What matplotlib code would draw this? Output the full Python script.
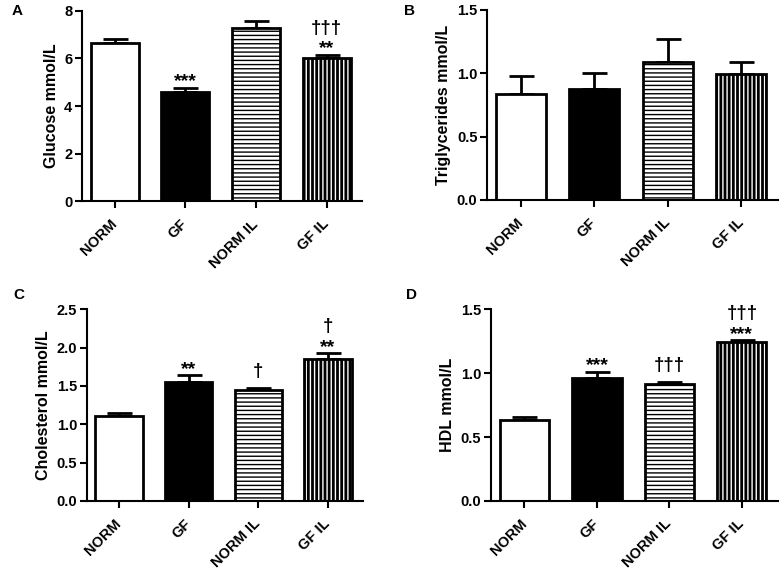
import numpy as np
import matplotlib
matplotlib.use("Agg")
import matplotlib.pyplot as plt

plt.rcParams['font.family'] = ['Liberation Sans', 'DejaVu Sans']
plt.rcParams['font.weight'] = 'bold'
plt.rcParams['hatch.linewidth'] = 1.0

groups = ["NORM", "GF", "NORM IL", "GF IL"]

# mean values and upper error (mean + sem)
glucose = [6.65, 4.58, 7.28, 6.01]
glucose_top = [6.82, 4.76, 7.58, 6.15]
trig = [0.834, 0.874, 1.084, 0.995]
trig_top = [0.98, 1.005, 1.27, 1.09]
chol = [1.11, 1.55, 1.45, 1.856]
chol_top = [1.15, 1.64, 1.48, 1.93]
hdl = [0.636, 0.96, 0.913, 1.242]
hdl_top = [0.657, 1.01, 0.935, 1.257]

# significance marks: (stars, daggers) per group
glucose_sig = [("", ""), ("***", ""), ("", ""), ("**", "†††")]
trig_sig = [("", "")] * 4
chol_sig = [("", ""), ("**", ""), ("", "†"), ("**", "†")]
hdl_sig = [("", ""), ("***", ""), ("", "†††"), ("***", "†††")]

panels = [
    ("A", [0.105, 0.649, 0.358, 0.332], glucose, glucose_top, glucose_sig,
     "Glucose mmol/L", 8, [0, 2, 4, 6, 8], "{:.0f}"),
    ("B", [0.623, 0.651, 0.372, 0.332], trig, trig_top, trig_sig,
     "Triglycerides mmol/L", 1.5, [0, 0.5, 1.0, 1.5], "{:.1f}"),
    ("C", [0.111, 0.126, 0.353, 0.334], chol, chol_top, chol_sig,
     "Cholesterol mmol/L", 2.5, [0, 0.5, 1.0, 1.5, 2.0, 2.5], "{:.1f}"),
    ("D", [0.628, 0.126, 0.367, 0.334], hdl, hdl_top, hdl_sig,
     "HDL mmol/L", 1.5, [0, 0.5, 1.0, 1.5], "{:.1f}"),
]
letter_pos = {"A": (0.015, 0.993), "B": (0.516, 0.993), "C": (0.017, 0.498), "D": (0.519, 0.498)}

fig = plt.figure(figsize=(7.82, 5.73), dpi=100)
x = np.arange(len(groups))
w = 0.68

for letter, rect, vals, tops, sig, ylab, ymax, yt, fmt in panels:
    ax = fig.add_axes(rect)
    vals = np.array(vals)
    err = np.array(tops) - vals
    ax.errorbar(x, vals, yerr=[np.zeros_like(err), err], fmt='none', ecolor='black',
                elinewidth=2, capsize=9, capthick=2, zorder=1)
    # fills
    ax.bar(x[0], vals[0], w, color='white', linewidth=0, zorder=2)
    ax.bar(x[1], vals[1], w, color='black', linewidth=0, zorder=2)
    ax.bar(x[2], vals[2], w, color='white', edgecolor='black', hatch='----', linewidth=0, zorder=2)
    ax.bar(x[3], vals[3], w, color='black', edgecolor='white', hatch='||||', linewidth=0, zorder=2)
    # outlines
    ax.bar(x, vals, w, fill=False, edgecolor='black', linewidth=2, zorder=3)

    for i, (st, dg) in enumerate(sig):
        if st:
            ax.annotate(st, (x[i], tops[i]), xytext=(0, 1), textcoords='offset points',
                        ha='center', va='baseline', fontsize=14, fontweight='bold')
        if dg:
            off = 16 if st else 8
            ax.annotate(dg, (x[i], tops[i]), xytext=(0, off), textcoords='offset points',
                        ha='center', va='baseline', fontsize=13.5, fontweight='bold')

    ax.set_xlim(-0.46, 3.5)
    ax.set_ylim(0, ymax)
    ax.set_yticks(yt)
    ax.set_yticklabels([fmt.format(v) for v in yt], fontsize=10.5, fontweight='bold')
    ax.set_xticks(x)
    ax.set_xticklabels(groups, rotation=45, ha='right', va='center', rotation_mode='anchor',
                       fontsize=10.5, fontweight='bold')
    ax.tick_params(axis='x', pad=10, length=5, width=1.5)
    ax.tick_params(axis='y', pad=2, length=5, width=1.5)
    ax.set_ylabel(ylab, fontsize=11.5, fontweight='bold')
    for s in ['top', 'right']:
        ax.spines[s].set_visible(False)
    for s in ['left', 'bottom']:
        ax.spines[s].set_linewidth(1.5)
    lx, ly = letter_pos[letter]
    fig.text(lx, ly, letter, fontsize=11, fontweight='bold', va='top', ha='left')

fig.savefig("out.png", dpi=100)
